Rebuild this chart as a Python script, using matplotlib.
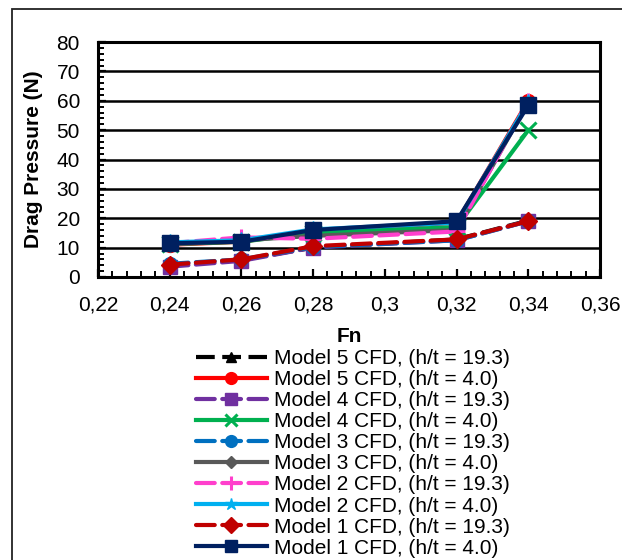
import matplotlib.pyplot as plt
from matplotlib.patches import Rectangle
from matplotlib.ticker import MultipleLocator, FuncFormatter

plt.rcParams['font.family'] = ['Liberation Sans', 'DejaVu Sans']

# --- Data: drag pressure vs Froude number ---
fn = [0.24, 0.26, 0.28, 0.32, 0.34]

m5_193 = [4.2, 5.8, 10.0, 12.8, 19.2]
m5_40 = [11.0, 12.0, 15.5, 18.5, 60.0]
m4_193 = [3.5, 5.5, 10.0, 12.5, 19.0]
m4_40 = [11.2, 12.0, 15.0, 17.0, 50.0]
m3_193 = [4.5, 6.0, 10.2, 12.5, 19.0]
m3_40 = [11.0, 12.5, 14.0, 16.0, 59.5]
m2_193 = [11.5, 13.5, 13.0, 15.5, 60.0]
m2_40 = [11.8, 12.5, 16.2, 18.5, 59.5]
m1_193 = [4.2, 6.0, 10.5, 12.8, 19.0]
m1_40 = [11.5, 12.0, 16.0, 19.0, 58.5]

labels = [
    'Model 5 CFD, (h/t = 19.3)', 'Model 5 CFD, (h/t = 4.0)',
    'Model 4 CFD, (h/t = 19.3)', 'Model 4 CFD, (h/t = 4.0)',
    'Model 3 CFD, (h/t = 19.3)', 'Model 3 CFD, (h/t = 4.0)',
    'Model 2 CFD, (h/t = 19.3)', 'Model 2 CFD, (h/t = 4.0)',
    'Model 1 CFD, (h/t = 19.3)', 'Model 1 CFD, (h/t = 4.0)',
]
series = [m5_193, m5_40, m4_193, m4_40, m3_193, m3_40, m2_193, m2_40, m1_193, m1_40]

# (colour, marker, marker size, dashed)
styles = [
    ('#000000', '^', 9, True),
    ('#FF0000', 'o', 10, False),
    ('#7030A0', 's', 10, True),
    ('#00B050', 'x', 11, False),
    ('#0070C0', 'o', 10, True),
    ('#595959', 'D', 7, False),
    ('#FF3FCC', '+', 12, True),
    ('#00B0F0', '*', 11, False),
    ('#C00000', 'D', 9, True),
    ('#002060', 's', 11, False),
]

fig = plt.figure(figsize=(6.22, 5.6), dpi=100)
fig.patch.set_facecolor('white')

# outer chart-area border
fig.add_artist(Rectangle((12 / 622, -0.05), 1.0, 1 - 9 / 560 + 0.05,
                         transform=fig.transFigure, fill=False,
                         edgecolor='#222222', linewidth=1.3))

ax = fig.add_axes([98 / 622, 1 - 277 / 560, 502 / 622, 235 / 560])

for vals, lab, (c, mk, ms, dashed) in zip(series, labels, styles):
    ls = (0, (4.5, 1.8)) if dashed else '-'
    mew = 2.2 if mk in ('x', '+') else 1.0
    ax.plot(fn, vals, color=c, linestyle=ls, linewidth=3.0, marker=mk,
            markersize=ms, markerfacecolor=c, markeredgecolor=c,
            markeredgewidth=mew, label=lab,
            dash_capstyle='round' if c != '#000000' else 'butt',
            clip_on=False)

ax.set_xlim(0.22, 0.36)
ax.set_ylim(0, 80)
ax.xaxis.set_major_locator(MultipleLocator(0.02))
ax.xaxis.set_minor_locator(MultipleLocator(0.004))
ax.yaxis.set_major_locator(MultipleLocator(10))
ax.yaxis.set_minor_locator(MultipleLocator(2))
ax.xaxis.set_major_formatter(FuncFormatter(
    lambda v, p: ('%g' % round(v, 2)).replace('.', ',')))

ax.grid(axis='y', which='major', color='black', linewidth=1.8)
ax.set_axisbelow(True)
for s in ax.spines.values():
    s.set_linewidth(2.2)

ax.tick_params(axis='both', which='major', direction='in', length=6,
               width=1.6, labelsize=15)
ax.tick_params(axis='both', which='minor', direction='in', length=4,
               width=1.4)
ax.tick_params(axis='x', which='major', pad=13)
ax.tick_params(axis='y', which='major', pad=13)

ax.set_xlabel('Fn', fontsize=15, fontweight='bold', labelpad=9)
ax.set_ylabel('Drag Pressure (N)', fontsize=15, fontweight='bold', labelpad=10)

fig.legend(loc='upper center', bbox_to_anchor=(353 / 622, 1 - 349 / 560),
           frameon=False, fontsize=15, handlelength=3.4, handletextpad=0.35,
           labelspacing=0.1, borderpad=0, borderaxespad=0, markerscale=0.85)

plt.savefig('out.png', dpi=100, facecolor='white')
plt.close()
